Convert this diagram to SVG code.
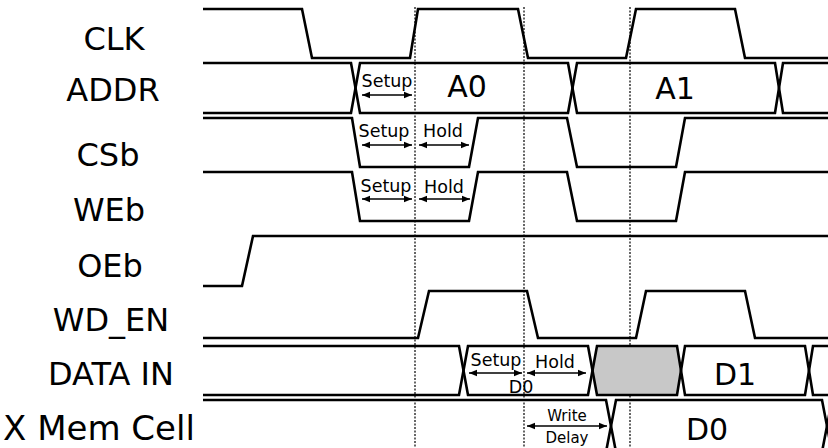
<svg xmlns="http://www.w3.org/2000/svg" width="828" height="448" viewBox="0 0 828 448">
<style>
.w{fill:none;stroke:#000;stroke-width:2.6;stroke-linejoin:miter}
.lbl{font-family:"DejaVu Sans",sans-serif;font-size:32px;fill:#000;text-anchor:middle}
.val{font-family:"DejaVu Sans",sans-serif;font-size:30px;fill:#000;text-anchor:middle}
.sm{font-family:"DejaVu Sans",sans-serif;font-size:17.5px;fill:#000;text-anchor:middle}
.xs{font-family:"DejaVu Sans",sans-serif;font-size:15px;fill:#000;text-anchor:middle}
.dot{fill:none;stroke:#000;stroke-width:1.2;stroke-dasharray:2,1.5}
.arr{fill:none;stroke:#000;stroke-width:1.5;marker-start:url(#ah);marker-end:url(#ah)}
</style>
<defs>
<marker id="ah" viewBox="0 0 10 10" refX="10" refY="5" markerWidth="8" markerHeight="8" markerUnits="userSpaceOnUse" orient="auto-start-reverse">
<path d="M0,1 L10,5 L0,9 Z" fill="#000"/>
</marker>
</defs>
<rect width="828" height="448" fill="#fff"/>
<g id="guides">
<line class="dot" x1="415" y1="7" x2="415" y2="448"/>
<line class="dot" x1="524" y1="7" x2="524" y2="448"/>
<line class="dot" x1="630" y1="7" x2="630" y2="448"/>
</g>
<g id="clk">
<text class="lbl" x="114" y="50">CLK</text>
<polyline class="w" points="203,9 302,9 312,58 410,58 418,9 518,9 528,58 626,58 636,9 735,9 745,58 828,58"/>
</g>
<g id="addr">
<text class="lbl" x="113" y="101">ADDR</text>
<polyline class="w" points="203,63 351,63 360,113 568,113 577,63 775,63 783,113 828,113"/>
<polyline class="w" points="203,113 351,113 360,63 568,63 577,113 775,113 783,63 828,63"/>
<text class="val" x="467" y="97">A0</text>
<text class="val" x="675" y="99">A1</text>
<text class="sm" x="387" y="87">Setup</text>
</g>
<g id="csb">
<text class="lbl" x="108" y="166">CSb</text>
<polyline class="w" points="203,118 352,118 360,167 469,167 478,118 567,118 577,167 676,167 685,118 828,118"/>
<text class="sm" x="384" y="137">Setup</text>
<text class="sm" x="443" y="137">Hold</text>
</g>
<g id="web">
<text class="lbl" x="109" y="221">WEb</text>
<polyline class="w" points="203,172 352,172 360,221 469,221 478,172 567,172 577,221 676,221 685,172 828,172"/>
<text class="sm" x="386" y="192">Setup</text>
<text class="sm" x="444" y="193">Hold</text>
</g>
<g id="oeb">
<text class="lbl" x="110" y="277">OEb</text>
<polyline class="w" points="203,286 242,286 253,236 828,236"/>
</g>
<g id="wd_en">
<text class="lbl" x="111" y="331">WD_EN</text>
<polyline class="w" points="203,338 418,338 429,291 527,291 538,338 636,338 646,291 745,291 755,338 828,338"/>
</g>
<g id="data_in">
<text class="lbl" x="111" y="385">DATA IN</text>
<polygon points="592.5,370.5 597,346 677,346 681,370.5 677,395 597,395" fill="#c8c8c8"/>
<polyline class="w" points="203,346 459,346 468,395 588,395 597,346 677,346 685,395 805,395 813,346 828,346"/>
<polyline class="w" points="203,395 459,395 468,346 588,346 597,395 677,395 685,346 805,346 813,395 828,395"/>
<text class="val" x="735" y="385">D1</text>
<text class="sm" x="496" y="366">Setup</text>
<text class="sm" x="555" y="368">Hold</text>
<text class="sm" x="521" y="393">D0</text>
</g>
<g id="mem_cell">
<text class="lbl" x="99" y="440" style="font-size:34px">X Mem Cell</text>
<polyline class="w" points="203,400 606,400 616,452 822,452 832,400"/>
<polyline class="w" points="203,452 606,452 616,400 822,400 832,452"/>
<text class="val" x="707" y="440">D0</text>
<text class="xs" x="567" y="421">Write</text>
<text class="xs" x="567" y="443">Delay</text>
</g>
<g id="connectors">
<line class="arr" x1="362" y1="95" x2="412" y2="95"/>
<line class="arr" x1="362" y1="145" x2="412" y2="145"/>
<line class="arr" x1="419" y1="145" x2="469" y2="145"/>
<line class="arr" x1="362" y1="199" x2="412" y2="199"/>
<line class="arr" x1="419" y1="199" x2="470" y2="199"/>
<line class="arr" x1="469" y1="373" x2="522" y2="373"/>
<line class="arr" x1="527" y1="373" x2="586" y2="373"/>
<line class="arr" x1="527" y1="426" x2="607" y2="426"/>
</g>
</svg>
